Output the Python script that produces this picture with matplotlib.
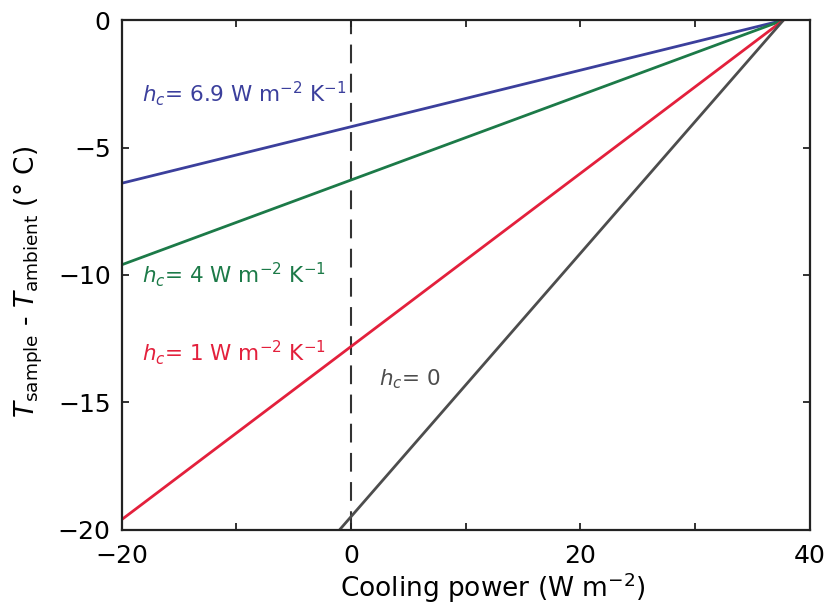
import numpy as np
import matplotlib.pyplot as plt

plt.rcParams['font.family'] = ['DejaVu Sans']
plt.rcParams['mathtext.fontset'] = 'dejavusans'

# Lines run from the left edge (or the bottom) to the common point at zero
x_left = [-20, -20, -20, -1.0]
y_left = [-6.4, -9.6, -19.6, -20]
x_conv = 37.7
y_conv = 0
labels = [r'$h_c$= 6.9 W m$^{-2}$ K$^{-1}$',
          r'$h_c$= 4 W m$^{-2}$ K$^{-1}$',
          r'$h_c$= 1 W m$^{-2}$ K$^{-1}$',
          r'$h_c$= 0']
colors = ['#3b3f9c', '#1c7a48', '#e3203c', '#4d4d4d']
label_x = [-18.2, -18.2, -18.2, 2.4]
label_y = [-2.9, -10.0, -13.05, -14.1]

fig = plt.figure(figsize=(8.34, 6.11), dpi=100)
ax = fig.add_axes([0.146, 0.133, 0.825, 0.834])

ax.axvline(0, color='#333333', lw=1.5, ls=(0, (9, 5)), zorder=1)

for i in range(len(x_left)):
    ax.plot([x_left[i], x_conv], [y_left[i], y_conv], color=colors[i], lw=2.0,
            solid_capstyle='butt', zorder=2)
    ax.text(label_x[i], label_y[i], labels[i], color=colors[i], fontsize=15.5,
            va='center', ha='left')

ax.set_xlim(-20, 40)
ax.set_ylim(-20, 0)
ax.set_xticks(np.arange(-20, 41, 10))
ax.set_xticklabels(['\u221220', '', '0', '', '20', '', '40'])
ax.set_yticks([0, -5, -10, -15, -20])
ax.set_yticklabels(['0', '\u22125', '\u221210', '\u221215', '\u221220'])
ax.tick_params(direction='in', top=True, right=True, length=5, width=1.3,
               labelsize=18, color='#222222')
ax.tick_params(axis='x', pad=10)
ax.tick_params(axis='y', pad=8)
for s in ax.spines.values():
    s.set_linewidth(1.6)
    s.set_color('#222222')

ax.set_xlabel(r'Cooling power (W m$^{-2}$)', fontsize=19)
ax.xaxis.set_label_coords(0.54, -0.08)
ax.set_ylabel(r'$T_{\mathrm{sample}}$ - $T_{\mathrm{ambient}}$ (° C)', fontsize=19)
ax.yaxis.set_label_coords(-0.112, 0.486)

fig.savefig('out.png', dpi=100)
